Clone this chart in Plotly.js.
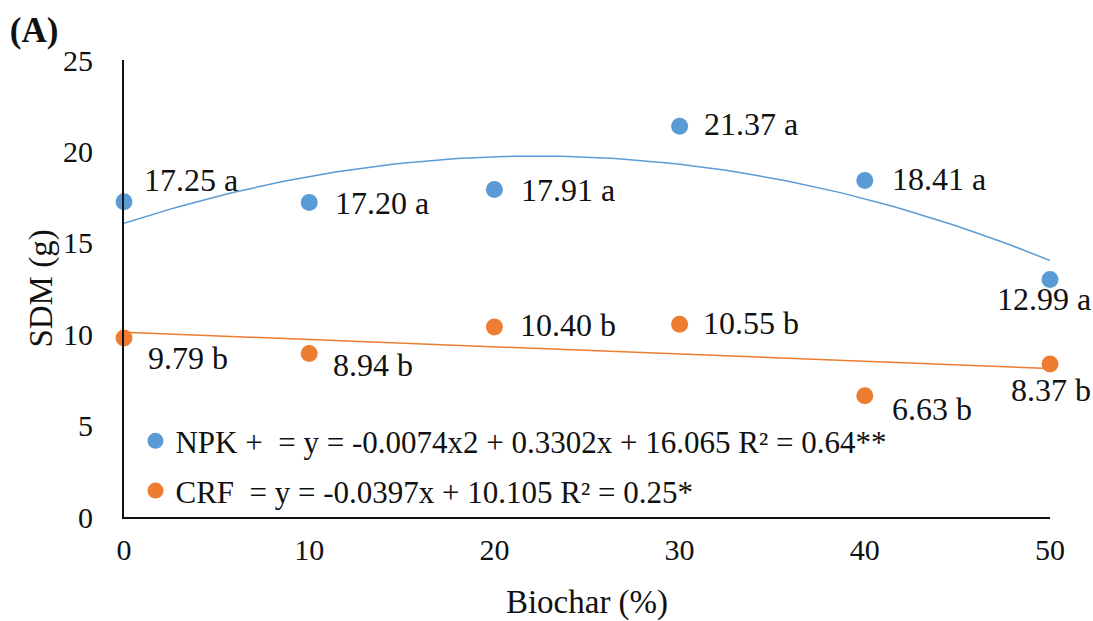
<!DOCTYPE html>
<html>
<head>
<meta charset="utf-8">
<script src="https://cdn.plot.ly/plotly-3.0.1.min.js"></script>
<style>html,body{margin:0;padding:0;background:#fff;}#chart{width:1093px;height:621px;}</style>
</head>
<body>
<div id="chart"></div>
<script>
// ---- data ----
const biochar = [0, 10, 20, 30, 40, 50];
const npkValues = [17.25, 17.20, 17.91, 21.37, 18.41, 12.99];
const crfValues = [9.79, 8.94, 10.40, 10.55, 6.63, 8.37];
const npkLetters = ['a', 'a', 'a', 'a', 'a', 'a'];
const crfLetters = ['b', 'b', 'b', 'b', 'b', 'b'];
const seriesNames = [
  'NPK +\u00a0 = y = -0.0074x2 + 0.3302x + 16.065 R² = 0.64**',
  'CRF\u00a0 = y = -0.0397x + 10.105 R² = 0.25*'
];
const yTicks = [0, 5, 10, 15, 20, 25];
const xTicks = [0, 10, 20, 30, 40, 50];

// ---- label placement (pixel offsets from each marker: [anchor, dx, dy-down]) ----
const npkLabelPlacement = [['left', 18, -22], ['left', 24, 0], ['left', 25, 0], ['left', 22, -2], ['left', 25, -1], ['center', -6, 19]];
const crfLabelPlacement = [['left', 22, 20], ['left', 22, 11], ['left', 24, -2], ['left', 21, -1], ['left', 25, 13], ['center', 1, 26]];

// ---- least-squares polynomial fit (trendlines, as in the spreadsheet) ----
function polyfit(xs, ys, deg) {
  const n = deg + 1;
  const A = [];
  for (let i = 0; i < n; i++) {
    A.push(new Array(n + 1).fill(0));
    for (let j = 0; j < n; j++) A[i][j] = xs.reduce((s, x) => s + Math.pow(x, i + j), 0);
    A[i][n] = xs.reduce((s, x, k) => s + Math.pow(x, i) * ys[k], 0);
  }
  for (let c = 0; c < n; c++) {
    let p = c;
    for (let r = c + 1; r < n; r++) if (Math.abs(A[r][c]) > Math.abs(A[p][c])) p = r;
    [A[c], A[p]] = [A[p], A[c]];
    for (let r = 0; r < n; r++) {
      if (r === c) continue;
      const f = A[r][c] / A[c][c];
      for (let k = c; k <= n; k++) A[r][k] -= f * A[c][k];
    }
  }
  return A.map((row, i) => row[n] / row[i]);
}
function evalPoly(coef, x) { return coef.reduce((s, c, i) => s + c * Math.pow(x, i), 0); }

const npkCoef = polyfit(biochar, npkValues, 2);
const crfCoef = polyfit(biochar, crfValues, 1);
const xMin = biochar[0], xMax = biochar[biochar.length - 1];
const fitX = [];
for (let i = 0; i <= 100; i++) fitX.push(xMin + (xMax - xMin) * i / 100);
const npkFit = fitX.map(x => evalPoly(npkCoef, x));
const crfFit = fitX.map(x => evalPoly(crfCoef, x));

const BLUE = '#5B9BD5', ORANGE = '#ED7D31';
const FONT = '"Liberation Serif", "Times New Roman", Times, serif';
const TEXT = '#111';
const fmt = v => v.toFixed(2);

const traces = [
  {x: fitX, y: npkFit, mode: 'lines', line: {color: BLUE, width: 1.5}, showlegend: false, hoverinfo: 'skip', cliponaxis: false},
  {x: fitX, y: crfFit, mode: 'lines', line: {color: ORANGE, width: 1.5}, showlegend: false, hoverinfo: 'skip', cliponaxis: false},
  {x: biochar, y: npkValues, name: seriesNames[0], mode: 'markers',
   marker: {color: BLUE, size: 17}, cliponaxis: false, legend: 'legend'},
  {x: biochar, y: crfValues, name: seriesNames[1], mode: 'markers',
   marker: {color: ORANGE, size: 17}, cliponaxis: false, legend: 'legend2'}
];

function labels(xs, ys, letters, placement) {
  return xs.map((x, i) => ({
    x: x, y: ys[i], xref: 'x', yref: 'y',
    text: fmt(ys[i]) + ' ' + letters[i],
    showarrow: false,
    xanchor: placement[i][0], yanchor: 'middle',
    xshift: placement[i][1], yshift: -placement[i][2],
    font: {family: FONT, size: 32, color: TEXT}
  }));
}
const annotations = labels(biochar, npkValues, npkLetters, npkLabelPlacement)
  .concat(labels(biochar, crfValues, crfLetters, crfLabelPlacement));

const legendCommon = {font: {family: FONT, size: 31, color: TEXT}, bgcolor: 'rgba(0,0,0,0)', xanchor: 'left', yanchor: 'middle'};

const layout = {
  width: 1093, height: 621,
  margin: {l: 124, r: 43, t: 60, b: 104},
  paper_bgcolor: '#fff', plot_bgcolor: '#fff',
  font: {family: FONT, color: TEXT},
  title: {text: '<b>(A)</b>', font: {family: FONT, size: 35, color: TEXT}, x: 0.009, xanchor: 'left', xref: 'container', y: 0.952, yanchor: 'middle', yref: 'container'},
  xaxis: {
    range: [xMin, xMax], tickvals: xTicks, ticktext: xTicks.map(String),
    showgrid: false, zeroline: false, showline: true, linecolor: '#111', linewidth: 2,
    ticks: '', tickfont: {family: FONT, size: 30, color: TEXT}, ticklabelstandoff: 5,
    title: {text: 'Biochar (%)', font: {family: FONT, size: 33, color: TEXT}, standoff: 27}
  },
  yaxis: {
    range: [0, 25], tickvals: yTicks, ticktext: yTicks.map(String),
    showgrid: false, zeroline: false, showline: true, linecolor: '#111', linewidth: 2,
    ticks: '', tickfont: {family: FONT, size: 30, color: TEXT}, ticklabelstandoff: 23,
    title: {text: 'SDM (g)', font: {family: FONT, size: 33, color: TEXT}, standoff: 0}
  },
  annotations: annotations,
  legend: Object.assign({x: 0.0124, y: 0.166}, legendCommon),
  legend2: Object.assign({x: 0.0124, y: 0.057}, legendCommon),
  showlegend: true
};

Plotly.newPlot('chart', traces, layout, {displayModeBar: false, staticPlot: true});
</script>
</body>
</html>
